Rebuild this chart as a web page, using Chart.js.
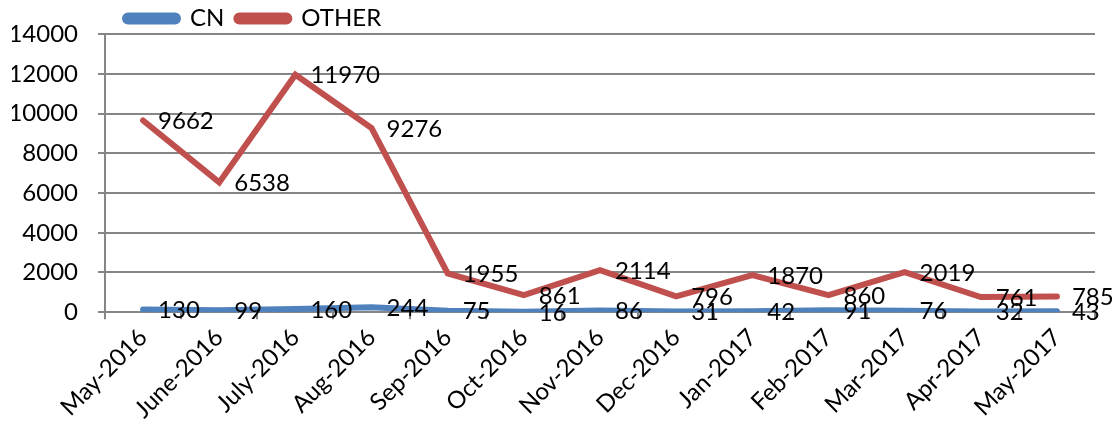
<!DOCTYPE html>
<html>
<head>
<meta charset="utf-8">
<script src="https://cdn.jsdelivr.net/npm/chart.js@4.4.1/dist/chart.umd.min.js"></script>
<style>
  html, body { margin: 0; padding: 0; background: #fff; }
  #wrap { width: 1113px; height: 428px; }
</style>
</head>
<body>
<div id="wrap"><canvas id="lineChart"></canvas></div>
<script>
// Dados
const months = ['May-2016', 'June-2016', 'July-2016', 'Aug-2016', 'Sep-2016', 'Oct-2016', 'Nov-2016',
                'Dec-2016', 'Jan-2017', 'Feb-2017', 'Mar-2017', 'Apr-2017', 'May-2017'];
const cnData = [130, 99, 160, 244, 75, 16, 86, 31, 42, 91, 76, 32, 43];
const otherData = [9662, 6538, 11970, 9276, 1955, 861, 2114, 796, 1870, 860, 2019, 761, 785];
const yTicks = [0, 2000, 4000, 6000, 8000, 10000, 12000, 14000];

const FONT = 'Lato';
const FSIZE = 24;

// rótulos de valor à direita de cada ponto
const valueLabels = {
    id: 'valueLabels',
    afterLayout(chart) {
        // legenda um pouco mais à direita e mais abaixo, como no original
        chart.legend.left += 8;
        chart.legend.right += 8;
        chart.legend.top += 6;
        chart.legend.bottom += 6;
    },
    afterDatasetsDraw(chart) {
        const ctx = chart.ctx;
        ctx.save();
        ctx.font = FSIZE + 'px ' + FONT;
        ctx.fillStyle = '#000';
        ctx.textAlign = 'left';
        ctx.textBaseline = 'middle';
        chart.data.datasets.forEach(function(ds, i) {
            chart.getDatasetMeta(i).data.forEach(function(pt, j) {
                ctx.fillText(String(ds.data[j]), pt.x + 15, pt.y + 1);
            });
        });
        ctx.restore();
    }
};

const ctx = document.getElementById('lineChart').getContext('2d');
new Chart(ctx, {
    type: 'line',
    data: {
        labels: months,
        datasets: [{
            label: 'CN',
            data: cnData,
            borderColor: '#4F81BD',
            backgroundColor: '#4F81BD',
            borderWidth: 6,
            borderCapStyle: 'round',
            pointRadius: 0,
            tension: 0
        }, {
            label: 'OTHER',
            data: otherData,
            borderColor: '#C0504D',
            backgroundColor: '#C0504D',
            borderWidth: 6,
            borderCapStyle: 'round',
            pointRadius: 0,
            tension: 0
        }]
    },
    options: {
        responsive: true,
        maintainAspectRatio: false,
        animation: false,
        layout: { padding: { left: 12, right: 18, top: -15, bottom: 0 } },
        plugins: {
            legend: {
                position: 'top',
                align: 'start',
                fullSize: false,
                labels: {
                    boxWidth: 53,
                    boxHeight: 6,
                    useBorderRadius: true,
                    borderRadius: 3,
                    padding: 12,
                    color: '#000',
                    font: { family: FONT, size: FSIZE }
                }
            },
            tooltip: { enabled: false }
        },
        scales: {
            x: {
                offset: true,
                afterFit: function(axis) { axis.paddingLeft = 0; },
                grid: {
                    offset: true,
                    drawOnChartArea: false,
                    drawTicks: true,
                    tickLength: 7,
                    color: '#868686',
                    lineWidth: 2
                },
                border: { color: '#868686', width: 2 },
                ticks: {
                    minRotation: 45,
                    maxRotation: 45,
                    color: '#000',
                    font: { family: FONT, size: FSIZE },
                    padding: 4
                }
            },
            y: {
                min: 0,
                max: 14000,
                afterBuildTicks: function(axis) {
                    axis.ticks = yTicks.map(function(v) { return { value: v }; });
                },
                afterFit: function(axis) { axis.width = 93; },
                grid: {
                    color: '#868686',
                    lineWidth: 2,
                    tickLength: 7
                },
                border: { color: '#868686', width: 2 },
                ticks: {
                    color: '#000',
                    font: { family: FONT, size: FSIZE },
                    padding: 20,
                    callback: function(v) { return String(v); }
                }
            }
        }
    },
    plugins: [valueLabels]
});
</script>
</body>
</html>
